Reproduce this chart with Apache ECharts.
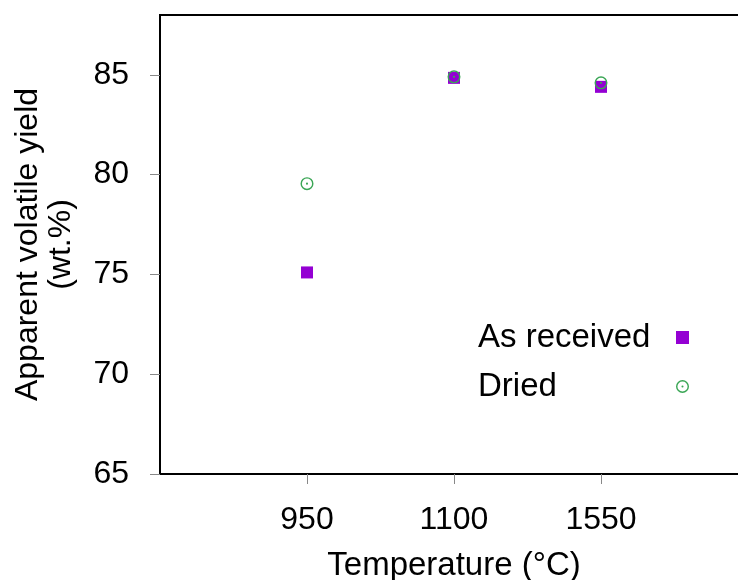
<!DOCTYPE html>
<html>
<head>
<meta charset="utf-8">
<script src="https://cdn.jsdelivr.net/npm/echarts@6/dist/echarts.min.js"></script>
<style>
  html, body { margin: 0; padding: 0; background: #fff; }
  #chart { width: 738px; height: 580px; }
</style>
</head>
<body>
<div id="chart"></div>
<script>
// Pyrolysis temperatures (evenly spaced positions on the x axis)
const temperatures = ['950', '1100', '1550'];
// Apparent volatile yield, wt.%
const asReceived = [75.1, 84.85, 84.4];
const dried = [79.55, 84.9, 84.6];
const yTicks = [65, 70, 75, 80, 85];
const xTickPositions = [0, 1, 2, 3];

const FONT = '"Liberation Sans", Arial, Helvetica, sans-serif';
const PURPLE = '#9400d3';
const GREEN = '#3aa655';

// ring with a centre dot (outer ring clockwise, hole counter-clockwise)
const dotCircle = 'path://M50,0A50,50 0 1,1 50,100A50,50 0 1,1 50,0Z' +
  'M50,11A39,39 0 1,0 50,89A39,39 0 1,0 50,11Z' +
  'M50,42A8,8 0 1,1 50,58A8,8 0 1,1 50,42Z';

const toPoints = vals => vals.map((v, i) => [i + 1, v]);

const chart = echarts.init(document.getElementById('chart'), null, { renderer: 'canvas' });
chart.setOption({
  animation: false,
  backgroundColor: '#fff',
  textStyle: { fontFamily: FONT },
  grid: {
    left: 160, top: 15, width: 588, height: 459,
    containLabel: false, outerBoundsMode: 'none',
    show: true, borderColor: '#000', borderWidth: 2, backgroundColor: 'transparent'
  },
  xAxis: {
    type: 'value', min: 0, max: temperatures.length + 1, interval: 1,
    splitLine: { show: false },
    axisLine: { lineStyle: { color: '#000', width: 2 } },
    axisTick: { show: true, length: 10, customValues: xTickPositions, lineStyle: { color: '#888', width: 1 } },
    axisLabel: {
      margin: 30, fontSize: 32, color: '#000', fontFamily: FONT,
      formatter: v => temperatures[v - 1] || '',
      showMinLabel: false, showMaxLabel: false
    },
    name: 'Temperature (°C)', nameLocation: 'middle', nameGap: 75,
    nameTextStyle: { fontSize: 33, color: '#000', fontFamily: FONT }
  },
  yAxis: {
    type: 'value', min: 65, max: 88, interval: 5,
    splitLine: { show: false },
    axisLine: { lineStyle: { color: '#000', width: 2 } },
    axisTick: { show: true, length: 10, customValues: yTicks, lineStyle: { color: '#888', width: 1 } },
    axisLabel: {
      margin: 31, fontSize: 32, color: '#000', fontFamily: FONT,
      customValues: yTicks,
      formatter: v => String(v)
    },
    name: 'Apparent volatile yield\n(wt.%)', nameLocation: 'middle', nameGap: 82,
    nameRotate: 90,
    nameTextStyle: { fontSize: 32, color: '#000', fontFamily: FONT, lineHeight: 33, align: 'center' }
  },
  legend: {
    orient: 'vertical', left: 473, top: 316, align: 'right',
    itemGap: 16, itemWidth: 13, itemHeight: 13,
    formatter: name => '{t|' + name + '}',
    textStyle: {
      color: '#000', fontFamily: FONT, fontSize: 33,
      rich: { t: { width: 193, align: 'left', fontSize: 33, fontFamily: FONT, color: '#000' } }
    },
    data: [
      { name: 'As received', icon: 'rect' },
      { name: 'Dried', icon: dotCircle }
    ]
  },
  series: [
    {
      name: 'As received', type: 'scatter', data: toPoints(asReceived),
      symbol: 'rect', symbolSize: 12,
      itemStyle: { color: PURPLE, opacity: 1 }
    },
    {
      name: 'Dried', type: 'scatter', data: toPoints(dried),
      symbol: dotCircle, symbolSize: 13,
      itemStyle: { color: GREEN, opacity: 1 }
    }
  ]
});
</script>
</body>
</html>
